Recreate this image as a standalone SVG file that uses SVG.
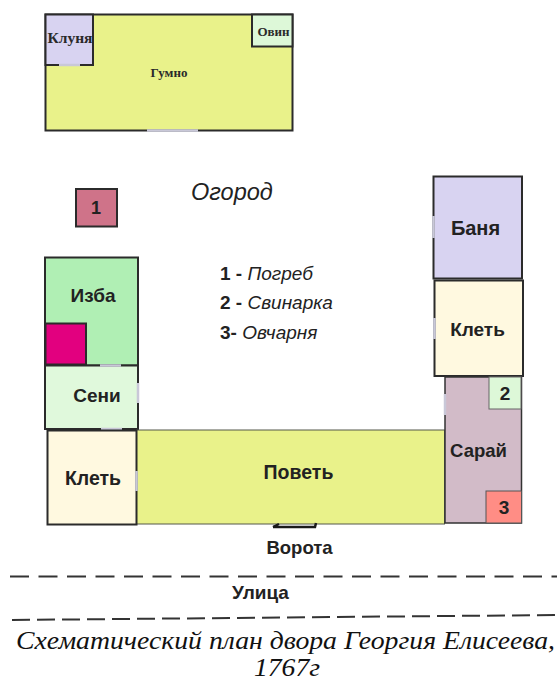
<svg xmlns="http://www.w3.org/2000/svg" width="557" height="680" viewBox="0 0 557 680">
<style>
.b{stroke:#2b2b2b;stroke-width:2}
.t{stroke:#55584a;stroke-width:1}
.s{font-family:"Liberation Sans",Arial,sans-serif;font-weight:bold;fill:#222;text-anchor:middle}
.r{font-family:"Liberation Serif","Times New Roman",serif;font-weight:bold;fill:#2a2a2a;text-anchor:middle}
.i{font-family:"Liberation Sans",Arial,sans-serif;font-style:italic;fill:#222;font-weight:normal}
.c{font-family:"Liberation Serif","Times New Roman",serif;font-style:italic;fill:#111;text-anchor:middle;font-size:24.4px}
.d{stroke:#c9c8d8;stroke-width:2.5;fill:none}
.l{fill:none;stroke:#333;stroke-width:2}
</style>
<rect width="557" height="680" fill="#fff"/>
<g id="gumno">
<rect class="b" x="45.5" y="14.5" width="247" height="116" fill="#e9f28a"/>
<path class="d" d="M147 130.5H198"/>
<text class="r" x="169" y="77" font-size="13">Гумно</text>
</g>
<g id="klunya">
<rect class="b" x="45.5" y="14.5" width="47.5" height="50.5" fill="#d8d3f1"/>
<path class="d" d="M59 65H80"/>
<text class="r" x="70" y="43" font-size="15.500">Клуня</text>
</g>
<g id="ovin">
<rect class="b" x="252" y="14.5" width="40.5" height="32" fill="#ddf8d8"/>
<text class="r" x="273.500" y="36" font-size="13">Овин</text>
</g>
<g id="pogreb">
<rect class="b" x="76" y="189" width="41" height="37.5" fill="#cf7389"/>
<text class="s" x="96" y="214" font-size="18">1</text>
</g>
<g id="ogorod"><text class="i" x="191" y="200" font-size="23.500">Огород</text></g>
<g id="legend">
<text x="220" y="280" font-size="19" class="i"><tspan font-weight="bold" font-style="normal">1 - </tspan>Погреб</text>
<text x="220" y="309" font-size="19" class="i"><tspan font-weight="bold" font-style="normal">2 - </tspan>Свинарка</text>
<text x="220" y="339" font-size="19" class="i"><tspan font-weight="bold" font-style="normal">3- </tspan>Овчарня</text>
</g>
<g id="izba">
<rect class="b" x="45" y="257.5" width="93" height="108" fill="#b0efb4"/>
<rect class="b" x="45.5" y="323.5" width="40.5" height="41" fill="#e2007f"/>
<text class="s" x="93" y="302" font-size="19">Изба</text>
</g>
<g id="seni">
<rect class="b" x="45" y="365.5" width="93" height="63.5" fill="#e0f9dc"/>
<path class="d" d="M100 365.5H121M138 383V403M101 429H122"/>
<text class="s" x="97" y="402" font-size="19">Сени</text>
</g>
<g id="povet">
<rect class="t" x="136.5" y="430" width="308" height="94" fill="#e9f28a"/>
<text class="s" x="298.500" y="479" font-size="19.500">Поветь</text>
</g>
<g id="klet-left">
<rect class="b" x="47.5" y="430.5" width="89" height="94" fill="#fff9e0"/>
<path class="d" d="M136.5 471V491"/>
<text class="s" x="93" y="485" font-size="19.500">Клеть</text>
</g>
<g id="banya">
<rect class="b" x="433.5" y="176.5" width="88.5" height="102" fill="#d8d3f1"/>
<path class="d" d="M433.5 216V238"/>
<text class="s" x="475.500" y="235" font-size="20">Баня</text>
</g>
<g id="klet-right">
<rect class="b" x="434.5" y="280.5" width="88.5" height="95.5" fill="#fff9e0"/>
<path class="d" d="M434.5 318V339"/>
<text class="s" x="477.500" y="336" font-size="19">Клеть</text>
</g>
<g id="saray">
<path d="M445 377H521.5V523H445Z" fill="#d2bbc8" stroke="#333" stroke-width="1.5"/>
<path class="d" d="M445 394V415"/>
<rect x="489" y="377" width="32" height="32" fill="#ddf8d8" stroke="#666" stroke-width="1"/>
<text class="s" x="505" y="400" font-size="19">2</text>
<rect x="486" y="491" width="35.5" height="32" fill="#ff8d85" stroke="#555" stroke-width="1"/>
<text class="s" x="504" y="514" font-size="19">3</text>
<text class="s" x="478.500" y="457" font-size="18.500">Сарай</text>
</g>
<g id="vorota">
<path d="M273 527H315L316 523" fill="none" stroke="#1a1a1a" stroke-width="2.5"/>
<path d="M273 527L279 524" fill="none" stroke="#1a1a1a" stroke-width="2.5"/>
<text class="s" x="299.500" y="554" font-size="18.500">Ворота</text>
</g>
<g id="connectors">
<path class="l" d="M10 576.500H557" stroke-dasharray="19 9.500"/>
<path class="l" d="M12 620L557 615" stroke-dasharray="18 7"/>
</g>
<g id="street"><text class="s" x="260.500" y="599" font-size="19">Улица</text></g>
<g id="caption">
<text class="c" x="285.500" y="649" textLength="539" lengthAdjust="spacingAndGlyphs">Схематический план двора Георгия Елисеева,</text>
<text class="c" x="287" y="676" textLength="66" lengthAdjust="spacingAndGlyphs">1767г</text>
</g>
</svg>
